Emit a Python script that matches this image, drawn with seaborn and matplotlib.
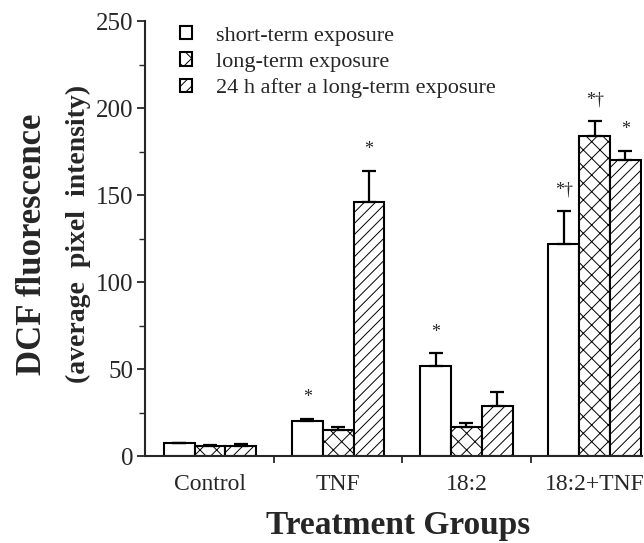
import matplotlib
matplotlib.use("Agg")
import matplotlib.pyplot as plt
import seaborn as sns
import pandas as pd
import numpy as np

groups = ["Control", "TNF", "18:2", "18:2+TNF"]
series = ["short-term exposure", "long-term exposure", "24 h after a long-term exposure"]
short_vals = [7.5, 20, 52, 122]
short_err = [0, 1.5, 7, 19]
long_vals = [6, 15, 17, 184]
long_err = [0.5, 1.5, 2, 8.5]
after_vals = [6, 146, 29, 170]
after_err = [1, 18, 8, 5.5]
short_marks = ["", "*", "*", "*\u2020"]
long_marks = ["", "", "", "*\u2020"]
after_marks = ["", "*", "", "*"]

sns.set_theme(style="ticks")
plt.rcParams["font.family"] = ["Liberation Serif", "DejaVu Serif"]
plt.rcParams["hatch.linewidth"] = 0.7

rows = []
for s, vals in zip(series, [short_vals, long_vals, after_vals]):
    for g, v in zip(groups, vals):
        rows.append({"group": g, "series": s, "value": v})
df = pd.DataFrame(rows)

fig = plt.figure(figsize=(6.44, 5.43), dpi=100)
ax = fig.add_axes([0.225, 0.160, 0.772, 0.801])

sns.barplot(data=df, x="group", y="value", hue="series", order=groups,
            hue_order=series, palette=["white"] * 3, edgecolor="black",
            linewidth=1.5, width=0.72, errorbar=None, ax=ax, legend=True)

hatches = ["", "xx", "///"]
errs = [short_err, long_err, after_err]
marks = [short_marks, long_marks, after_marks]
vals_all = [short_vals, long_vals, after_vals]
for cont, h, e, m, vals in zip(ax.containers, hatches, errs, marks, vals_all):
    xs = []
    for p in cont.patches:
        p.set_hatch(h)
        p.set_facecolor("white")
        p.set_edgecolor("black")
        xs.append(p.get_x() + p.get_width() / 2)
    ax.errorbar(xs, vals, yerr=[np.zeros(len(e)), e], fmt="none",
                ecolor="black", elinewidth=1.6, capsize=5, capthick=1.6,
                zorder=3)
    for x, v, ee, mk in zip(xs, vals, e, m):
        if mk:
            ax.annotate(mk, (x, v + ee), xytext=(0, 9), textcoords="offset points",
                        ha="center", va="bottom", fontsize=13)

ax.set_ylim(0, 250)
ax.set_xlim(-0.508, 3.37)
ax.set_yticks(range(0, 251, 50))
ax.set_yticks(range(0, 251, 25), minor=True)
ax.set_xticks(range(len(groups)))
ax.set_xticklabels(groups)
ax.set_xticks([0.5, 1.5, 2.5], minor=True)
ax.tick_params(axis="x", which="major", length=0, labelsize=17, pad=13)
ax.tick_params(axis="x", which="minor", length=5, width=1.3, direction="out")
ax.tick_params(axis="y", which="major", length=6, width=1.3, labelsize=18,
               direction="out", pad=2)
ax.tick_params(axis="y", which="minor", length=4, width=1.0, direction="out")
for sp in ["top", "right"]:
    ax.spines[sp].set_visible(False)
for sp in ["left", "bottom"]:
    ax.spines[sp].set_linewidth(1.5)
ax.set_xlabel("Treatment Groups", fontsize=24, fontweight="bold")
ax.xaxis.set_label_coords(0.51, -0.125)
ax.set_ylabel("")

fig.text(0.050, 0.55, "DCF fluorescence", rotation=90, ha="center", va="center",
         fontsize=25, fontweight="bold")
fig.text(0.121, 0.57, "(average  pixel  intensity)", rotation=90, ha="center",
         va="center", fontsize=20, fontweight="bold")

leg = ax.legend(loc="upper left", bbox_to_anchor=(0.03, 1.035), frameon=False,
                fontsize=16, handlelength=0.55, handleheight=0.55,
                handletextpad=1.1, labelspacing=0.3)
for hp, h in zip(leg.legend_handles, hatches):
    hp.set_hatch(h)
    hp.set_facecolor("white")
    hp.set_edgecolor("black")
    hp.set_linewidth(1.5)

fig.savefig("out.png", dpi=100)
